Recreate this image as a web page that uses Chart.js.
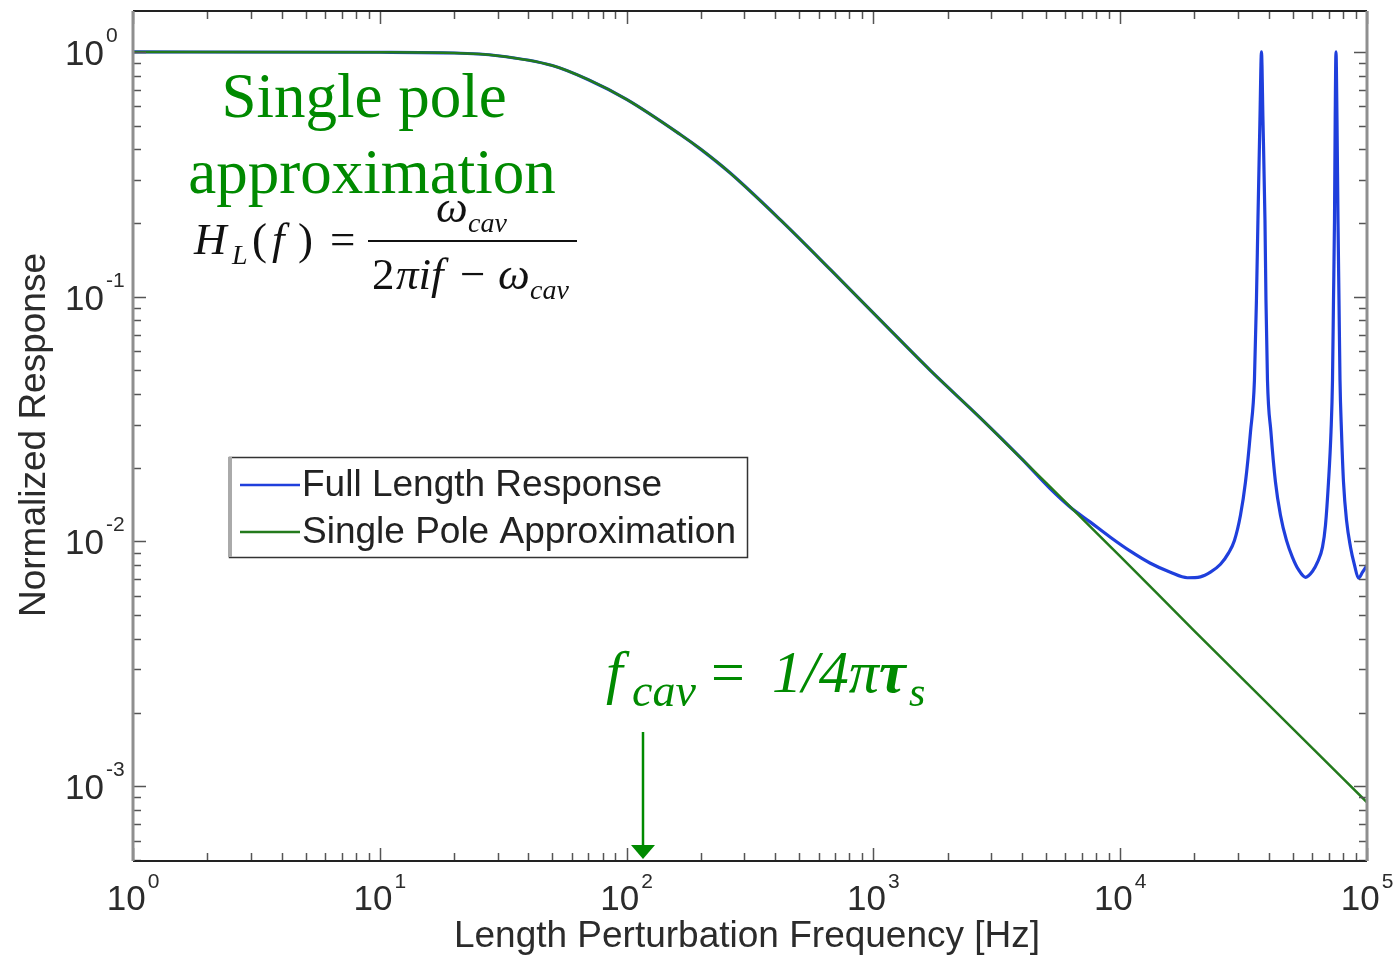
<!DOCTYPE html>
<html><head><meta charset="utf-8">
<script src="https://cdn.jsdelivr.net/npm/chart.js@4.4.0/dist/chart.umd.min.js"></script>
<style>html,body{margin:0;padding:0;background:#fff;overflow:hidden}#wrap{position:relative;width:1397px;height:957px}</style>
</head><body><div id="wrap"><canvas id="c" width="1397" height="957"></canvas></div>
<script>
// ---- data ----
const seriesNames = ['Full Length Response', 'Single Pole Approximation'];
const poleFreq = [1, 10, 20, 30, 50, 70, 100, 165, 200, 263, 420, 670, 1070, 1700, 2710, 4000, 5000, 10000, 20000, 50000, 100000];
const poleResp = [1.0, 0.997, 0.99, 0.965, 0.88, 0.77, 0.64, 0.46, 0.40, 0.32, 0.206, 0.129, 0.080, 0.050, 0.032, 0.0217, 0.0174, 0.0087, 0.0043, 0.00172, 0.00086];
const fullFreq = [1, 10, 20, 30, 50, 70, 100, 165, 200, 263, 420, 670, 1070, 1700, 2710, 4000, 5212, 6281, 7568, 9120, 10990, 13250, 15970, 18710, 21140,
  23210, 25480, 27460, 29030, 30710, 32180, 33720, 34990, 35650, 36150, 36830, 37360,
  37880, 38600, 38960, 39510, 40810, 42570, 44610, 47180, 49890, 52780, 56330,
  60150, 63010, 66020, 67890, 69820, 71470, 72480, 73150, 73840, 74320, 74870,
  75580, 76290, 77000, 77730, 78830, 80310, 82600, 85750, 89010, 92370, 95900, 100000];
const fullResp = [1.0, 0.997, 0.99, 0.965, 0.88, 0.77, 0.64, 0.46, 0.40, 0.32, 0.206, 0.129, 0.080, 0.050, 0.032, 0.0217, 0.0164, 0.0138, 0.0120, 0.01041, 0.00913, 0.00815, 0.00749, 0.00711, 0.00717,
  0.00749, 0.00807, 0.00896, 0.0101, 0.0128, 0.0175, 0.0280, 0.0457, 0.097, 0.206, 0.529, 1.0,
  0.529, 0.206, 0.097, 0.0457, 0.0280, 0.0175, 0.0128, 0.0101, 0.00862, 0.00767, 0.00714,
  0.00756, 0.00823, 0.00948, 0.01166, 0.0175, 0.0280, 0.0457, 0.097, 0.206, 0.529, 1.0,
  0.529, 0.206, 0.097, 0.0457, 0.0280, 0.0175, 0.01222, 0.00948, 0.0080, 0.00708, 0.00749, 0.0080];
const xMajorTicks = [1, 10, 100, 1000, 10000, 100000];
const xTickExps = ['0', '1', '2', '3', '4', '5'];
const yMajorTicks = [1, 0.1, 0.01, 0.001];
const yTickExps = ['0', '-1', '-2', '-3'];
const xTitle = 'Length Perturbation Frequency [Hz]';
const yTitle = 'Normalized Response';
const fcavMarker = 117;

const BLUE = '#1f3fdc', GREEN = '#237a1c', TXTGREEN = '#008a00';

function minorTicks(lo, hi) {
  const out = [];
  for (let e = Math.floor(Math.log10(lo)); e <= Math.ceil(Math.log10(hi)); e++) {
    for (let m = 1; m <= 9; m++) {
      const v = m * Math.pow(10, e);
      if (v >= lo * 0.999 && v <= hi * 1.001) out.push({ v, major: m === 1 });
    }
  }
  return out;
}

const axesPlugin = {
  id: 'matlabAxes',
  afterDatasetsDraw(chart) {
    const ctx = chart.ctx, a = chart.chartArea, xs = chart.scales.x, ys = chart.scales.y;
    ctx.save();
    ctx.strokeStyle = '#555'; ctx.lineWidth = 1.5;
    minorTicks(xs.min, xs.max).forEach(t => {
      const px = Math.round(xs.getPixelForValue(t.v)) + 0.5, L = t.major ? 13 : 8;
      ctx.beginPath();
      ctx.moveTo(px, a.bottom); ctx.lineTo(px, a.bottom - L);
      ctx.moveTo(px, a.top); ctx.lineTo(px, a.top + L);
      ctx.stroke();
    });
    minorTicks(ys.min, ys.max).forEach(t => {
      const py = Math.round(ys.getPixelForValue(t.v)) + 0.5, L = t.major ? 13 : 8;
      ctx.beginPath();
      ctx.moveTo(a.left, py); ctx.lineTo(a.left + L, py);
      ctx.moveTo(a.right, py); ctx.lineTo(a.right - L, py);
      ctx.stroke();
    });
    ctx.lineWidth = 2; ctx.strokeStyle = '#222';
    ctx.beginPath(); ctx.moveTo(a.left, a.top); ctx.lineTo(a.right, a.top);
    ctx.moveTo(a.left, a.bottom); ctx.lineTo(a.right, a.bottom); ctx.stroke();
    ctx.lineWidth = 3; ctx.strokeStyle = '#8f8f8f';
    ctx.beginPath(); ctx.moveTo(a.left, a.top); ctx.lineTo(a.left, a.bottom);
    ctx.moveTo(a.right, a.top); ctx.lineTo(a.right, a.bottom); ctx.stroke();

    ctx.fillStyle = '#2b2b2b';
    const big = '35px "Liberation Sans", Arial, sans-serif', small = '21px "Liberation Sans", Arial, sans-serif';
    xMajorTicks.forEach((v, i) => {
      const px = xs.getPixelForValue(v);
      ctx.font = big; const w1 = ctx.measureText('10').width;
      ctx.font = small; const w2 = ctx.measureText(xTickExps[i]).width;
      const start = px - (w1 + 2 + w2) / 2;
      ctx.textAlign = 'left'; ctx.textBaseline = 'alphabetic';
      ctx.font = big; ctx.fillText('10', start, a.bottom + 49);
      ctx.font = small; ctx.fillText(xTickExps[i], start + w1 + 2, a.bottom + 27);
    });
    yMajorTicks.forEach((v, i) => {
      const py = ys.getPixelForValue(v);
      ctx.textBaseline = 'alphabetic';
      ctx.font = big; ctx.textAlign = 'right'; ctx.fillText('10', a.left - 29, py + 13);
      ctx.font = small; ctx.textAlign = 'left'; ctx.fillText(yTickExps[i], a.left - 27, py - 10);
    });
    ctx.font = '37px "Liberation Sans", Arial, sans-serif';
    ctx.textAlign = 'center'; ctx.textBaseline = 'alphabetic';
    ctx.fillText(xTitle, 747, 947);
    ctx.save(); ctx.translate(45, 435); ctx.rotate(-Math.PI / 2);
    ctx.fillText(yTitle, 0, 0); ctx.restore();
    ctx.restore();
  }
};

const annotPlugin = {
  id: 'annotations',
  afterDraw(chart) {
    const ctx = chart.ctx, xs = chart.scales.x, a = chart.chartArea;
    ctx.save();
    ctx.textBaseline = 'alphabetic';
    ctx.fillStyle = TXTGREEN; ctx.textAlign = 'center';
    ctx.font = '63px "Liberation Serif", "Times New Roman", serif';
    ctx.fillText('Single pole', 364, 117);
    ctx.fillText('approximation', 372, 193);
    ctx.fillStyle = '#111'; ctx.textAlign = 'left';
    const it = s => `italic ${s}px "Liberation Serif", "Times New Roman", serif`;
    const up = s => `${s}px "Liberation Serif", "Times New Roman", serif`;
    ctx.font = it(45); ctx.fillText('H', 194, 254);
    ctx.font = it(28); ctx.fillText('L', 232, 264);
    ctx.font = up(45); ctx.fillText('(', 252, 254);
    ctx.font = it(45); ctx.fillText('f', 272, 254);
    ctx.font = up(45); ctx.fillText(')', 298, 254);
    ctx.font = up(45); ctx.fillText('=', 330, 254);
    ctx.fillRect(368, 240, 209, 2);
    ctx.font = it(45); ctx.fillText('\u03C9', 436, 222);
    ctx.font = it(28); ctx.fillText('cav', 468, 232);
    ctx.font = up(45); ctx.fillText('2', 372, 289);
    ctx.font = it(45); ctx.fillText('\u03C0if', 396, 289);
    ctx.font = up(45); ctx.fillText('\u2212', 460, 289);
    ctx.font = it(45); ctx.fillText('\u03C9', 498, 289);
    ctx.font = it(28); ctx.fillText('cav', 530, 299);
    ctx.fillStyle = TXTGREEN;
    ctx.font = it(60); ctx.fillText('f', 606, 692);
    ctx.font = it(46); ctx.fillText('cav', 632, 706);
    ctx.font = up(60); ctx.fillText('=', 711, 692);
    ctx.font = it(60); ctx.fillText('1/4\u03C0', 772, 692);
    ctx.font = 'italic bold 60px "Liberation Serif", "Times New Roman", serif'; ctx.fillText('\u03C4', 879, 692);
    ctx.font = it(42); ctx.fillText('s', 909, 706);
    const ax = Math.round(xs.getPixelForValue(fcavMarker));
    ctx.strokeStyle = TXTGREEN; ctx.lineWidth = 2.5;
    ctx.beginPath(); ctx.moveTo(ax, 732); ctx.lineTo(ax, a.bottom - 14); ctx.stroke();
    ctx.beginPath(); ctx.moveTo(ax - 12, a.bottom - 16); ctx.lineTo(ax + 12, a.bottom - 16); ctx.lineTo(ax, a.bottom - 2); ctx.closePath(); ctx.fill();
    const lx = 229, ly = 457, lw = 518, lh = 100;
    ctx.fillStyle = '#fff'; ctx.fillRect(lx, ly, lw, lh);
    ctx.strokeStyle = '#333'; ctx.lineWidth = 1.5;
    ctx.strokeRect(lx + 0.5, ly + 0.5, lw, lh);
    ctx.strokeStyle = '#aaa'; ctx.lineWidth = 4;
    ctx.beginPath(); ctx.moveTo(lx + 1, ly); ctx.lineTo(lx + 1, ly + lh); ctx.stroke();
    const ds = chart.data.datasets;
    const rows = [485, 532];
    ds.forEach((d, i) => {
      ctx.strokeStyle = d.borderColor; ctx.lineWidth = 2.5;
      ctx.beginPath(); ctx.moveTo(240, rows[i]); ctx.lineTo(300, rows[i]); ctx.stroke();
      ctx.fillStyle = '#222'; ctx.font = '37px "Liberation Sans", Arial, sans-serif';
      ctx.textAlign = 'left'; ctx.textBaseline = 'middle';
      ctx.fillText(d.label, 302, rows[i] + 1);
    });
    ctx.restore();
  }
};

new Chart(document.getElementById('c'), {
  type: 'line',
  data: {
    datasets: [
      { label: seriesNames[0], data: fullFreq.map((f, i) => ({ x: f, y: fullResp[i] })),
        borderColor: BLUE, borderWidth: 3.2, pointRadius: 0, cubicInterpolationMode: 'monotone', order: 1 },
      { label: seriesNames[1], data: poleFreq.map((f, i) => ({ x: f, y: poleResp[i] })),
        borderColor: GREEN, borderWidth: 2.5, pointRadius: 0, cubicInterpolationMode: 'monotone', order: 0 }
    ]
  },
  options: {
    responsive: false, animation: false, devicePixelRatio: 1,
    layout: { padding: { left: 133, right: 30, top: 11, bottom: 96 } },
    scales: {
      x: { type: 'logarithmic', min: 1, max: 100000, display: false },
      y: { type: 'logarithmic', min: 4.95e-4, max: 1.47, display: false }
    },
    plugins: { legend: { display: false }, tooltip: { enabled: false } },
    elements: { line: { tension: 0 } }
  },
  plugins: [axesPlugin, annotPlugin]
});
</script></body></html>
